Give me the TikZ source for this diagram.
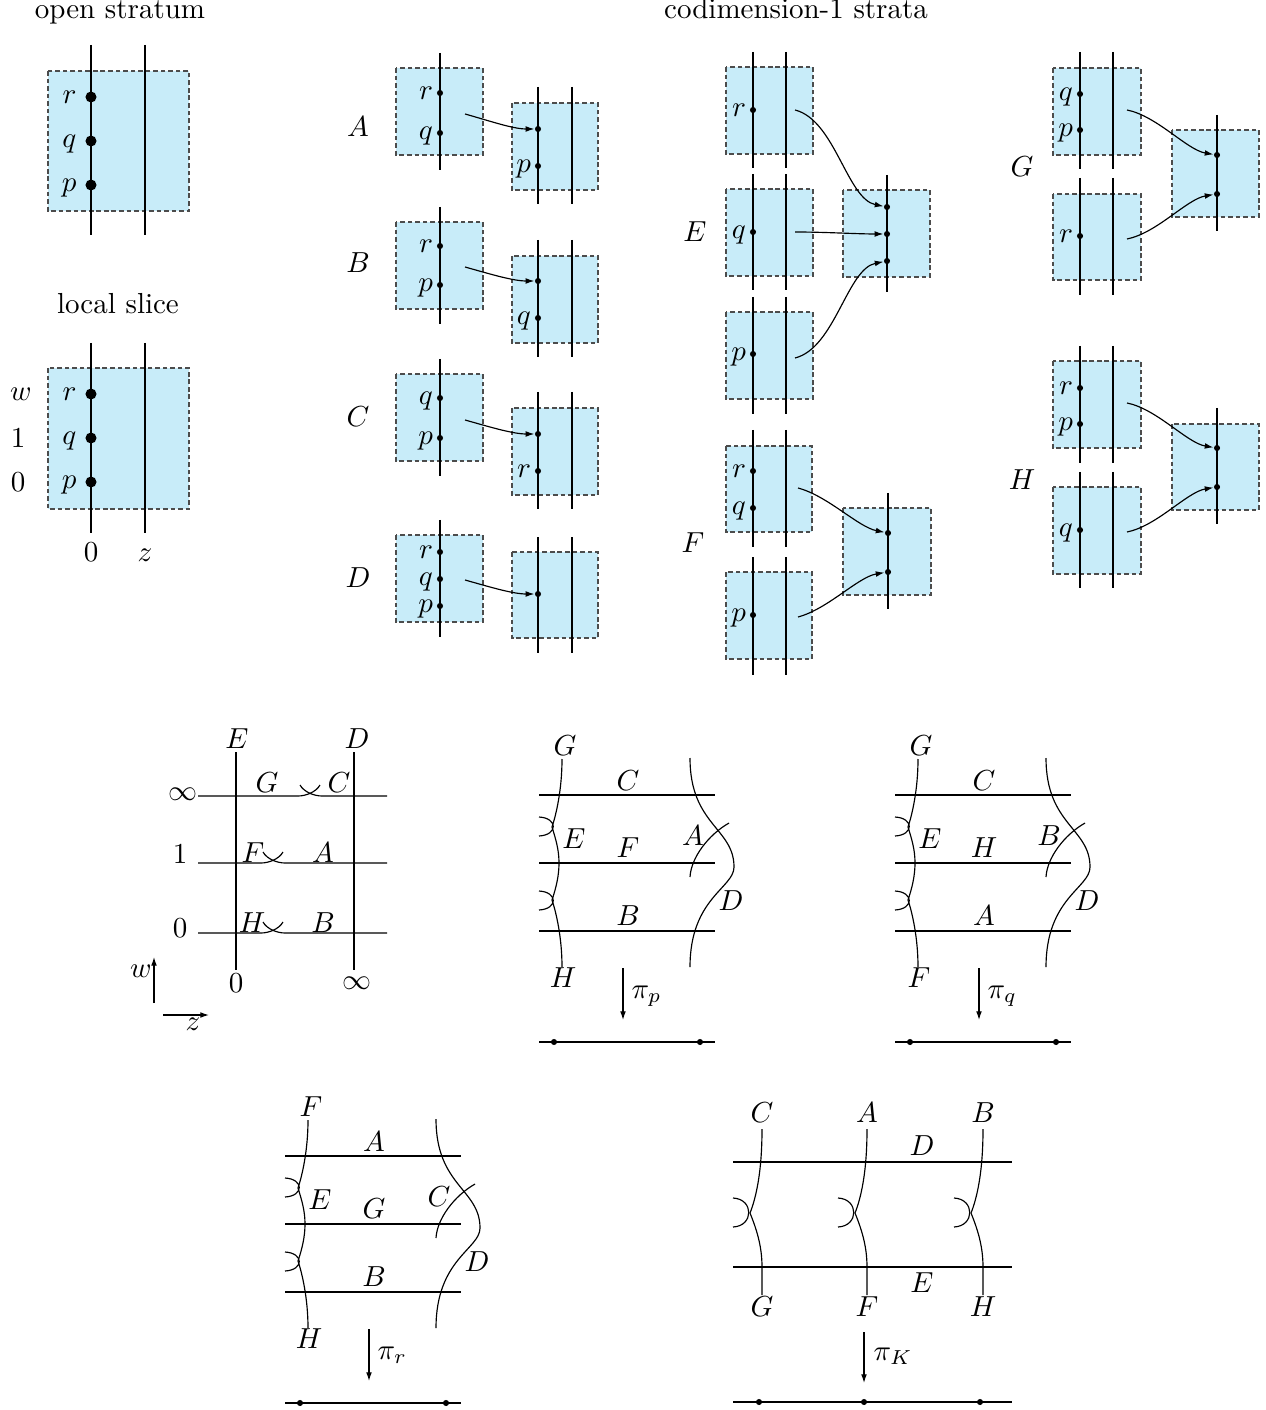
\documentclass[tikz,border=0pt]{standalone}
\usetikzlibrary{arrows.meta}
\definecolor{boxblue}{RGB}{200,236,249}
\tikzset{
  panel/.style={fill=boxblue, draw=black!70, dash pattern=on 1.6pt off 1pt},
  bdot/.style={circle, fill=black, inner sep=0pt, minimum size=3.8pt},
  sdot/.style={circle, fill=black, inner sep=0pt, minimum size=2.1pt},
  lab/.style={inner sep=0pt, anchor=mid east},
  tx/.style={inner sep=0pt, anchor=base},
  cx/.style={inner sep=0pt, anchor=center},
  arr/.style={-{Latex[length=3pt,width=2pt]}},
}
\newcommand\ptl[4]{\node[sdot] (#1) at (#2,#3) {};\node[lab] (#1l) at (#2-6.5,#3) {$#4$};}
\newcommand\pt[3]{\node[sdot] (#1) at (#2,#3) {};}
\newcommand\crossrow[3]{%
  \draw (198,#1) -- (#2-12,#1) .. controls (#2-4,#1) and (#2+6,#1-4) .. (#2+10,#1-11);
  \draw (#2-10,#1-11) .. controls (#2-6,#1-4) and (#2+4,#1) .. (#2+12,#1) -- (387,#1);}
\newcommand\fibdiag[8]{%
  \draw (539,795) -- (715,795);
  \draw (539,863) -- (715,863);
  \draw (539,931) -- (715,931);
  \draw (562,759) .. controls (562,790) and (556,815) .. (552,827)
        .. controls (556,840) and (559,850) .. (559,863)
        .. controls (559,876) and (556,888) .. (552,900)
        .. controls (556,912) and (562,937) .. (562,967);
  \draw (539,817) .. controls (558,818) and (558,835) .. (539,836);
  \draw (539,891) .. controls (558,892) and (558,909) .. (539,910);
  \draw (690,758) .. controls (690,825) and (734,828) .. (734,867)
        .. controls (734,888) and (690,898) .. (690,967);
  \draw (690,877) .. controls (691,858) and (708,835) .. (729,823);
  \node[tx] (#1t) at (565,755) {$#2$};
  \node[tx] (#1b) at (563,987) {$#3$};
  \node[tx] (#1e) at (574,848) {$E$};
  \node[tx] (#1l1) at (628,790) {$#4$};
  \node[tx] (#1l2) at (628,857) {$#5$};
  \node[tx] (#1l3) at (628,925) {$#6$};
  \node[tx] (#1x) at (693,845) {$#7$};
  \node[tx] (#1d) at (731,910) {$D$};
  \coordinate (#1pa) at (623,968); \coordinate (#1pb) at (623,1020);
  \draw[arr] (#1pa) -- (#1pb);
  \node[tx, anchor=base west] (#1pi) at (631,998) {$\pi_{#8}$};
  \coordinate (#1la) at (539,1042); \coordinate (#1lb) at (715,1042);
  \draw (#1la) -- (#1lb);
  \node[sdot] (#1d1) at (554,1042) {};
  \node[sdot] (#1d2) at (700,1042) {};}
\newcommand\strand[1]{%
  \draw (#1,1129) .. controls (#1,1172) and (#1-6,1198) .. (#1-12,1213)
        .. controls (#1-6,1228) and (#1,1245) .. (#1,1267) -- (#1,1295);
  \draw (#1-29,1198) .. controls (#1-8,1199) and (#1-8,1226) .. (#1-29,1227);}
\begin{document}
\begin{tikzpicture}[x=0.345pt,y=-0.345pt]
\useasboundingbox (0,0) rectangle (1265,1410);

% ---------- open stratum ----------
\node[tx] (t1) at (120,19) {open stratum};
\draw[panel] (48,71) rectangle (189,211);
\draw (91,45) -- (91,235);
\draw (145,45) -- (145,235);
\node[bdot] (o1) at (91,97) {};  \node[lab] (o1l) at (77,97) {$r$};
\node[bdot] (o2) at (91,141) {}; \node[lab] (o2l) at (77,141) {$q$};
\node[bdot] (o3) at (91,185) {}; \node[lab] (o3l) at (77,185) {$p$};

% ---------- local slice ----------
\node[tx] (t2) at (118,314) {local slice};
\draw[panel] (48,368) rectangle (189,509);
\draw (91,343) -- (91,533);
\draw (145,343) -- (145,533);
\node[bdot] (s1) at (91,394) {}; \node[lab] (s1l) at (77,394) {$r$};
\node[bdot] (s2) at (91,438) {}; \node[lab] (s2l) at (77,438) {$q$};
\node[bdot] (s3) at (91,482) {}; \node[lab] (s3l) at (77,482) {$p$};
\node[cx] (sw) at (21,394) {$w$};
\node[cx] (s1v) at (18,438) {$1$};
\node[cx] (s0v) at (18,482) {$0$};
\node[tx] (sz0) at (91,561) {$0$};
\node[tx] (szz) at (145,561) {$z$};

% ---------- codimension-1 strata ----------
\node[tx] (t3) at (796,19) {codimension-1 strata};

% A
\node[tx] (lA) at (358,137) {$A$};
\draw[panel] (396,68) rectangle (483,155);
\draw (440,53) -- (440,170);
\draw[panel] (512,103) rectangle (598,190);
\draw (538,87) -- (538,204); \draw (572,87) -- (572,204);
\ptl{Ar}{440}{93}{r} \ptl{Aq}{440}{133}{q}
\pt{At}{538}{129} \ptl{Ap}{538}{166}{p}
\coordinate (As) at (465,114);
\draw[arr] (As) .. controls +(25,7) and +(-25,0) .. (At);

% B
\node[tx] (lB) at (358,273) {$B$};
\draw[panel] (396,222) rectangle (483,309);
\draw (440,207) -- (440,324);
\draw[panel] (512,256) rectangle (598,343);
\draw (538,240) -- (538,357); \draw (572,240) -- (572,357);
\ptl{Br}{440}{246}{r} \ptl{Bp}{440}{285}{p}
\pt{Bt}{538}{281} \ptl{Bq}{538}{318}{q}
\coordinate (Bs) at (465,267);
\draw[arr] (Bs) .. controls +(25,7) and +(-25,0) .. (Bt);

% C
\node[tx] (lC) at (358,427) {$C$};
\draw[panel] (396,374) rectangle (483,461);
\draw (440,359) -- (440,476);
\draw[panel] (512,408) rectangle (598,495);
\draw (538,392) -- (538,509); \draw (572,392) -- (572,509);
\ptl{Cq}{440}{398}{q} \ptl{Cp}{440}{438}{p}
\pt{Ct}{538}{434} \ptl{Cr}{538}{471}{r}
\coordinate (Cs) at (465,420);
\draw[arr] (Cs) .. controls +(25,7) and +(-25,0) .. (Ct);

% D
\node[tx] (lD) at (358,588) {$D$};
\draw[panel] (396,535) rectangle (483,622);
\draw (440,520) -- (440,637);
\draw[panel] (512,552) rectangle (598,638);
\draw (538,537) -- (538,653); \draw (572,537) -- (572,653);
\ptl{Dr}{440}{552}{r} \ptl{Dq}{440}{579}{q} \ptl{Dp}{440}{606}{p}
\pt{Dt}{538}{594}
\coordinate (Ds) at (465,580);
\draw[arr] (Ds) .. controls +(25,7) and +(-25,0) .. (Dt);

% E
\node[tx] (lE) at (695,242) {$E$};
\draw[panel] (726,67) rectangle (813,154);
\draw[panel] (726,189) rectangle (813,276);
\draw[panel] (726,312) rectangle (813,399);
\draw (753,52) -- (753,168); \draw (786,52) -- (786,168);
\draw (753,174) -- (753,290); \draw (786,174) -- (786,290);
\draw (753,297) -- (753,414); \draw (786,297) -- (786,414);
\draw[panel] (843,190) rectangle (930,277);
\draw (887,175) -- (887,292);
\ptl{Er}{753}{110}{r} \ptl{Eq}{753}{232}{q} \ptl{Ep}{753}{354}{p}
\pt{E1}{887}{207} \pt{E2}{887}{234} \pt{E3}{887}{261}
\coordinate (Es1) at (795,110);
\coordinate (Es2) at (795,232);
\coordinate (Es3) at (795,358);
\draw[arr] (Es1) .. controls +(40,10) and +(-40,-8) .. (E1);
\draw[arr] (Es2) .. controls +(30,0) and +(-30,0) .. (E2);
\draw[arr] (Es3) .. controls +(40,-10) and +(-40,8) .. (E3);

% F
\node[tx] (lF) at (693,553) {$F$};
\draw[panel] (726,446) rectangle (812,532);
\draw[panel] (726,572) rectangle (812,659);
\draw (753,430) -- (753,547); \draw (786,430) -- (786,547);
\draw (753,557) -- (753,675); \draw (786,557) -- (786,675);
\draw[panel] (843,508) rectangle (931,595);
\draw (888,493) -- (888,609);
\ptl{Fr}{753}{471}{r} \ptl{Fq}{753}{508}{q} \ptl{Fp}{753}{615}{p}
\pt{F1}{888}{533} \pt{F2}{888}{572}
\coordinate (Fs1) at (798,488);
\coordinate (Fs2) at (798,617);
\draw[arr] (Fs1) .. controls +(30,8) and +(-30,-6) .. (F1);
\draw[arr] (Fs2) .. controls +(30,-8) and +(-30,5) .. (F2);

% G
\node[tx] (lG) at (1022,177) {$G$};
\draw[panel] (1053,68) rectangle (1141,155);
\draw[panel] (1053,194) rectangle (1141,280);
\draw (1080,52) -- (1080,169); \draw (1113,52) -- (1113,169);
\draw (1080,178) -- (1080,295); \draw (1113,178) -- (1113,295);
\draw[panel] (1172,130) rectangle (1259,217);
\draw (1217,115) -- (1217,231);
\ptl{Gq}{1080}{94}{q} \ptl{Gp}{1080}{130}{p} \ptl{Gr}{1080}{236}{r}
\pt{G1}{1217}{155} \pt{G2}{1217}{194}
\coordinate (Gs1) at (1127,110);
\coordinate (Gs2) at (1127,239);
\draw[arr] (Gs1) .. controls +(30,6) and +(-30,-5) .. (G1);
\draw[arr] (Gs2) .. controls +(30,-6) and +(-30,5) .. (G2);

% H
\node[tx] (lH) at (1022,490) {$H$};
\draw[panel] (1053,361) rectangle (1141,448);
\draw[panel] (1053,487) rectangle (1141,574);
\draw (1080,346) -- (1080,463); \draw (1113,346) -- (1113,463);
\draw (1080,472) -- (1080,588); \draw (1113,472) -- (1113,588);
\draw[panel] (1172,424) rectangle (1259,510);
\draw (1217,408) -- (1217,524);
\ptl{Hr}{1080}{388}{r} \ptl{Hp}{1080}{424}{p} \ptl{Hq}{1080}{530}{q}
\pt{H1}{1217}{448} \pt{H2}{1217}{487}
\coordinate (Hs1) at (1127,403);
\coordinate (Hs2) at (1127,532);
\draw[arr] (Hs1) .. controls +(30,6) and +(-30,-5) .. (H1);
\draw[arr] (Hs2) .. controls +(30,-6) and +(-30,5) .. (H2);

% ---------- bottom diagram 1: (z,w) plane ----------
\draw (236,752) -- (236,970);
\draw (354,752) -- (354,970);
\node[tx] (bE) at (237,748) {$E$};
\node[tx] (bD) at (357,748) {$D$};
\node[tx] (b0) at (236,992) {$0$};
\node[tx] (binf) at (357,989) {$\infty$};
\crossrow{796}{310}{}
\crossrow{863}{273}{}
\crossrow{933}{273}{}
\node[cx] (rinf) at (183,794) {$\infty$};
\node[tx] (r1) at (180,863) {$1$};
\node[tx] (r0) at (180,937) {$0$};
\node[tx] (bG) at (267,792) {$G$};
\node[tx] (bC) at (339,792) {$C$};
\node[tx] (bF) at (253,862) {$F$};
\node[tx] (bA) at (323,862) {$A$};
\node[tx] (bH) at (252,932) {$H$};
\node[tx] (bB) at (323,932) {$B$};
\coordinate (wa) at (154,1003); \coordinate (wb) at (154,957);
\draw[arr] (wa) -- (wb);
\node[cx] (wl) at (141,971) {$w$};
\coordinate (za) at (163,1015); \coordinate (zb) at (209,1015);
\draw[arr] (za) -- (zb);
\node[tx] (zl) at (193,1030) {$z$};

% ---------- fibre diagrams ----------
\fibdiag{p}{G}{H}{C}{F}{B}{A}{p}
\begin{scope}[shift={(356,0)}]
\fibdiag{q}{G}{F}{C}{H}{A}{B}{q}
\end{scope}
\begin{scope}[shift={(-254,361)}]
\fibdiag{r}{F}{H}{A}{G}{B}{C}{r}
\end{scope}

% ---------- pi_K diagram ----------
\draw (733,1162) -- (1012,1162);
\draw (733,1267) -- (1012,1267);
\strand{762}
\strand{867}
\strand{983}
\node[tx] (kC) at (762,1122) {$C$};
\node[tx] (kA) at (867,1122) {$A$};
\node[tx] (kB) at (983,1122) {$B$};
\node[tx] (kG) at (762,1316) {$G$};
\node[tx] (kF) at (867,1316) {$F$};
\node[tx] (kH) at (983,1316) {$H$};
\node[tx] (kD) at (922,1155) {$D$};
\node[tx] (kE) at (922,1292) {$E$};
\coordinate (ka) at (864,1332); \coordinate (kb) at (864,1383);
\draw[arr] (ka) -- (kb);
\node[tx, anchor=base west] (kpi) at (873,1360) {$\pi_K$};
\coordinate (kla) at (733,1402); \coordinate (klb) at (1012,1402);
\draw (kla) -- (klb);
\node[sdot] (k1) at (759,1402) {};
\node[sdot] (k2) at (864,1402) {};
\node[sdot] (k3) at (980,1402) {};
\end{tikzpicture}
\end{document}
